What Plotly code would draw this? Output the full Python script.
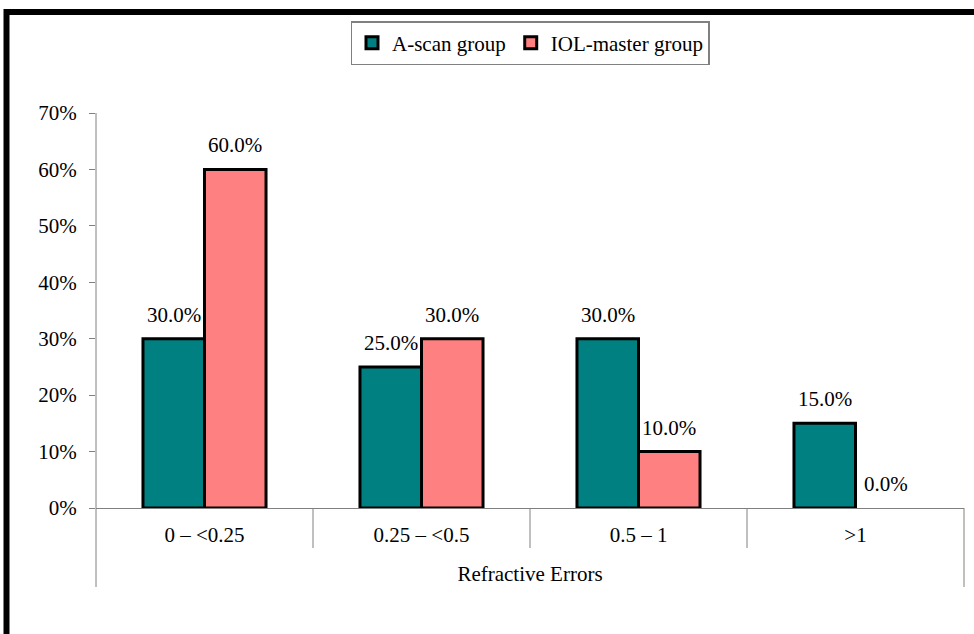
import plotly.graph_objects as go

categories = ["0 – <0.25", "0.25 – <0.5", "0.5 – 1", ">1"]
a_scan = [30.0, 25.0, 30.0, 15.0]
iol_master = [60.0, 30.0, 10.0, 0.0]
y_ticks = [0, 10, 20, 30, 40, 50, 60, 70]
y_tick_text = ["0%", "10%", "20%", "30%", "40%", "50%", "60%", "70%"]

W, H = 974, 634
L, R, T, B = 96, 10, 113, 126
PW, PH = W - L - R, H - T - B

def px2x(px):
    return (px - L) / PW

def px2y(py):
    return (H - B - py) / PH

FONT = "Liberation Serif"
FS = 21
AXC = "#808080"

fig = go.Figure()
fig.add_trace(go.Bar(
    x=categories, y=a_scan, name="A-scan group",
    marker=dict(color="#008080",
                line=dict(color="black", width=[3 if v > 0 else 0 for v in a_scan])),
    cliponaxis=False,
))
fig.add_trace(go.Bar(
    x=categories, y=iol_master, name="IOL-master group",
    marker=dict(color="#FF8080",
                line=dict(color="black", width=[3 if v > 0 else 0 for v in iol_master])),
    cliponaxis=False,
))

annotations = []
for series, off in [(a_scan, -1), (iol_master, 1)]:
    for c, v in zip(categories, series):
        annotations.append(dict(
            x=c, y=v, xref="x", yref="y", text=f"{v:.1f}%",
            showarrow=False, yanchor="bottom", xanchor="center",
            xshift=off * 30.5, yshift=10,
            font=dict(family=FONT, size=FS, color="black"),
        ))

shapes = []
for xd in [0.25, 0.5, 0.75]:
    shapes.append(dict(type="line", xref="paper", yref="paper",
                       x0=xd, x1=xd, y0=0, y1=px2y(548),
                       line=dict(color=AXC, width=1)))
for xd in [0, 1]:
    shapes.append(dict(type="line", xref="paper", yref="paper",
                       x0=xd, x1=xd, y0=1 if xd == 0 else 0, y1=px2y(587),
                       line=dict(color=AXC, width=1)))
shapes.append(dict(type="line", xref="paper", yref="paper",
                   x0=px2x(4), x1=px2x(990), y0=px2y(12), y1=px2y(12),
                   line=dict(color="black", width=6)))
shapes.append(dict(type="line", xref="paper", yref="paper",
                   x0=px2x(6.5), x1=px2x(6.5), y0=px2y(9), y1=px2y(650),
                   line=dict(color="black", width=6)))

fig.update_layout(
    width=W, height=H,
    margin=dict(l=L, r=R, t=T, b=B, pad=0),
    paper_bgcolor="white", plot_bgcolor="white",
    font=dict(family=FONT, size=FS, color="black"),
    barmode="group", bargap=0.433, bargroupgap=0,
    showlegend=True,
    legend=dict(orientation="h", x=0.5, xanchor="center",
                y=px2y(21), yanchor="top",
                bordercolor=AXC, borderwidth=1.5,
                font=dict(family=FONT, size=FS, color="black"),
                traceorder="normal"),
    shapes=shapes,
    annotations=annotations,
    xaxis=dict(showline=True, linecolor=AXC, linewidth=1, ticks="",
               showgrid=False, tickfont=dict(family=FONT, size=FS),
               ticklabelstandoff=8,
               title=dict(text="Refractive Errors", standoff=20,
                          font=dict(family=FONT, size=FS))),
    yaxis=dict(range=[0, 70], tickvals=y_ticks, ticktext=y_tick_text,
               showline=False, ticks="outside", ticklen=6, tickcolor=AXC,
               showgrid=False, zeroline=False, ticklabelstandoff=8,
               tickfont=dict(family=FONT, size=FS)),
)

fig.write_html("out.html")
